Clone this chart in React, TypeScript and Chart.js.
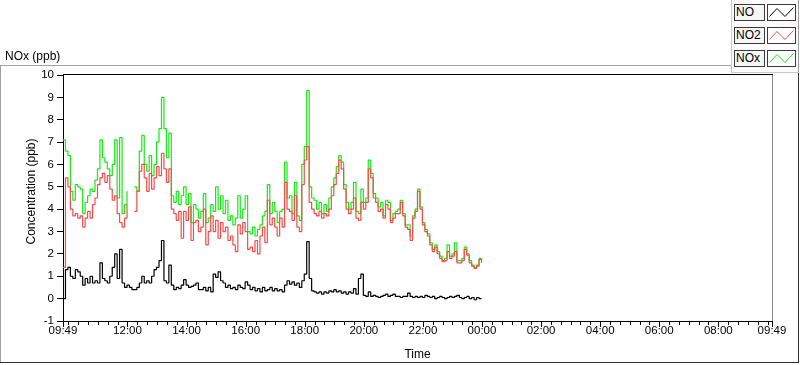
import React, { useEffect, useRef } from "react";
import { Chart, registerables } from "chart.js";

Chart.register(...registerables);

// ---- data (5-minute samples starting at 09:49) ----
const START_CLOCK_MIN = 9 * 60 + 49;
const SPAN_MIN = 1440;
const SAMPLE_STEP_MIN = 5;

const noValues: (number | null)[] = [
  0.0, 1.3, 1.4, 1.0, 0.9, 1.3, 1.2, 1.0, 0.6, 0.9, 0.7, 1.0, 0.7, 0.8, 0.7, 1.6, 0.9, 0.8, 0.7, 1.0,
  1.4, 2.0, 0.9, 2.2, 0.7, 0.5, 0.6, 0.5, 0.4, 0.4, 0.5, 0.7, 1.0, 0.7, 0.8, 0.7, 1.0, 1.3, 1.4, 1.7,
  2.6, 0.8, 0.7, 1.5,
  0.6, 0.4, 0.5, 0.45, 0.6, 0.85, 0.6, 0.5, 0.55, 0.6, 0.7, 0.4, 0.4, 0.5, 0.35, 0.5, 0.3, 1.1, 0.95, 1.2,
  0.8, 0.7, 0.5, 0.6, 0.45, 0.5, 0.4, 0.6, 0.5, 0.45, 0.75, 0.6, 0.4, 0.5, 0.35, 0.45, 0.3, 0.5, 0.35, 0.4,
  0.5, 0.35, 0.45,
  0.35, 0.4, 0.3, 0.6, 0.8, 0.65, 0.75, 0.6, 0.7, 0.5, 0.8, 1.1, 2.55, 0.9, 0.35, 0.3, 0.25, 0.3, 0.2, 0.3,
  0.25, 0.35, 0.3, 0.4, 0.3, 0.35, 0.25, 0.3, 0.2, 0.3, 0.25, 0.45, 0.2, 0.9, 1.1, 0.15, 0.1, 0.3, 0.1, 0.15,
  0.1, 0.05, 0.1,
  0.15, 0.2, 0.1, 0.15, 0.2, 0.1, 0.1, 0.05, 0.1, 0.1, 0.25, 0.1, 0.05, 0.1, 0.05, 0.1, 0.05, 0.15, 0.1, 0.05,
  0.1, 0.0, 0.05, 0.1, 0.05, 0.0, 0.05, 0.1, 0.05, 0.1, 0.15, 0.05, 0.0, 0.05, 0.1, 0.0, 0.05, -0.05, 0.05, 0.0,
  0.0,
];

const no2Values: (number | null)[] = [
  1.4, 5.4, 5.0, 4.0, 3.7, 3.8, 3.6, 3.7, 3.2, 3.6, 3.9, 3.6, 4.2, 4.5, 5.1, 5.4, 5.6, 5.2, 5.5, 4.9,
  4.4, 4.6, 3.8, 3.4, 3.2, 3.6, 4.2, null, null, 3.9, 4.8, 5.7, 6.0, 5.4, 4.8, 5.6, 4.9, 5.4, 5.9, 5.5,
  6.5, 5.8, 5.2, 5.8,
  4.0, 3.8, 3.5, 3.9, 2.7, 3.9, 3.5, 4.1, 2.6, 3.4, 3.5, 3.0, 3.2, 4.0, 2.4, 3.0, 3.7, 3.0, 3.5, 2.7,
  3.4, 3.0, 3.2, 2.6, 2.8, 2.4, 2.1, 3.3, 2.9, 3.4, 3.0, 2.2, 2.3, 2.1, 2.6, 2.0, 2.8, 3.2, 2.5, 4.4,
  3.3, 3.6, 3.2,
  2.8, 3.6, 3.2, 5.2, 4.0, 3.9, 3.5, 4.6, 3.2, 3.0, 5.1, 6.2, 6.8, 4.3, 4.0, 3.8, 3.7, 3.9, 3.6, 3.8,
  3.7, 4.0, 4.6, 5.1, 5.6, 6.2, 5.8, 4.9, 4.0, 3.8, 4.0, 4.5, 3.6, 3.5, 4.3, 4.0, 4.3, 5.8, 5.4, 4.5,
  4.3, 3.9, 4.0,
  3.6, 4.2, 4.0, 3.4, 3.6, 3.8, 3.8, 4.3, 3.7, 3.2, 3.1, 2.6, 3.6, 3.9, 4.8, 4.0, 3.3, 3.0, 2.8, 2.4,
  2.1, 2.3, 2.0, 1.8, 1.65, 1.7, 2.1, 1.8, 1.9, 2.1, 1.6, 1.6, 1.7, 2.2, 1.95, 1.6, 1.45, 1.35, 1.45, 1.75,
  1.6,
];

const noxValues: (number | null)[] = [
  7.1, 6.6, 6.4, 4.8, 4.4, 5.1, 5.0, 4.9, 3.8, 4.3, 4.6, 4.9, 4.8, 5.3, 5.8, 7.1, 6.3, 6.1, 5.8, 5.5,
  6.0, 7.1, 4.5, 7.2, 3.8, 4.2, 4.8, null, null, 5.0, 4.8, 6.6, 7.3, 6.0, 5.7, 6.4, 5.5, 6.0, 7.0, 7.6,
  9.0, 7.6, 6.3, 7.4,
  4.6, 4.3, 4.8, 4.2, 4.6, 5.0, 4.2, 4.7, 3.4, 4.2, 4.0, 3.6, 3.9, 4.7, 3.4, 3.6, 4.2, 3.9, 5.0, 4.0,
  4.6, 3.8, 4.4, 3.5, 3.7, 3.3, 3.6, 4.6, 3.6, 4.0, 4.6, 3.0, 2.9, 3.2, 2.8, 3.1, 3.3, 3.7, 3.9, 5.1,
  3.8, 4.3, 3.9,
  3.4, 3.9, 4.0, 6.1, 4.5, 4.6, 3.8, 5.2, 3.7, 3.5, 6.0, 6.8, 9.3, 5.0, 4.5, 4.4, 4.0, 4.3, 3.8, 4.2,
  3.9, 4.5, 5.0, 5.4, 5.9, 6.4, 6.1, 5.1, 4.3, 4.0, 4.3, 5.2, 3.9, 3.8, 4.9, 4.3, 4.5, 6.2, 5.6, 4.7,
  4.5, 4.1, 4.3,
  3.7, 4.4, 4.3, 3.5, 3.8, 3.9, 4.0, 4.4, 3.8, 3.3, 3.3, 2.8, 3.7, 4.0, 4.9, 4.1, 3.4, 3.1, 2.9, 2.5,
  2.2, 2.4, 2.1, 1.9, 1.7, 1.8, 2.4, 1.9, 2.0, 2.5, 1.7, 1.7, 1.8, 2.3, 2.0, 1.7, 1.5, 1.4, 1.5, 1.8,
  1.7,
];

const seriesNames = ["NO", "NO2", "NOx"];
const seriesColors = ["#000000", "#ff4848", "#14ec14"];
const yMin = -1;
const yMax = 10;
const graphTitle = "NOx (ppb)";
const yTitle = "Concentration (ppb)";
const xTitle = "Time";

const FONT = "'Segoe UI', 'Liberation Sans', Arial, sans-serif";

// tick positions: start, every 20 clock-minutes, end
function buildXTicks(): number[] {
  const t: number[] = [0];
  let m = Math.ceil((START_CLOCK_MIN + 1) / 20) * 20;
  while (m < START_CLOCK_MIN + SPAN_MIN) {
    t.push(m - START_CLOCK_MIN);
    m += 20;
  }
  t.push(SPAN_MIN);
  return t;
}
const xTickValues = buildXTicks();

function xLabel(v: number): string {
  if (v === 0 || v === SPAN_MIN) return "09:49";
  if (v < 60 || v > SPAN_MIN - 60) return "";
  const clock = (START_CLOCK_MIN + v) % 1440;
  if (clock % 120 === 0) {
    const h = Math.floor(clock / 60);
    return (h < 10 ? "0" : "") + h + ":00";
  }
  return "";
}

const toPoints = (vals: (number | null)[]) =>
  vals.map((v, i) => ({ x: i * SAMPLE_STEP_MIN, y: v }));

const decorPlugin = {
  id: "decor",
  afterDraw(chart: any) {
    const { ctx, chartArea: a, scales } = chart;
    const xs = scales.x;
    ctx.save();
    ctx.lineWidth = 1;
    ctx.strokeStyle = "#000";
    xs.ticks.forEach((t: any) => {
      const px = Math.round(xs.getPixelForValue(t.value)) + 0.5;
      const len = t.label ? 5 : 3;
      ctx.beginPath();
      ctx.moveTo(px, a.bottom + 1);
      ctx.lineTo(px, a.bottom + 1 + len);
      ctx.stroke();
    });
    // top border of plot
    ctx.beginPath();
    ctx.moveTo(a.left, Math.round(a.top) - 0.5);
    ctx.lineTo(a.right + 1, Math.round(a.top) - 0.5);
    ctx.stroke();
    // right border of plot
    ctx.strokeStyle = "#8a8a8a";
    ctx.beginPath();
    ctx.moveTo(Math.round(a.right) + 0.5, a.top);
    ctx.lineTo(Math.round(a.right) + 0.5, a.bottom);
    ctx.stroke();
    // y title
    ctx.fillStyle = "#000";
    ctx.font = "12px " + FONT;
    ctx.textAlign = "center";
    ctx.textBaseline = "middle";
    ctx.translate(32, 191.5);
    ctx.rotate(-Math.PI / 2);
    ctx.fillText(yTitle, 0, 0);
    ctx.restore();
  },
};

export default function App() {
  const ref = useRef<HTMLCanvasElement>(null);

  useEffect(() => {
    const valueSets = [noValues, no2Values, noxValues];
    const chart = new Chart(ref.current as HTMLCanvasElement, {
      type: "line",
      data: {
        datasets: seriesNames.map((name, k) => ({
          label: name,
          data: toPoints(valueSets[k]) as any,
          borderColor: seriesColors[k],
          backgroundColor: seriesColors[k],
          borderWidth: 1.2,
          pointRadius: 0,
          stepped: true,
          spanGaps: false,
          borderJoinStyle: "bevel" as const,
          fill: false,
        })),
      },
      options: {
        animation: false,
        responsive: false,
        maintainAspectRatio: false,
        layout: { padding: { left: 0, top: 75, right: 28, bottom: 0 } },
        plugins: { legend: { display: false }, tooltip: { enabled: false } },
        scales: {
          x: {
            type: "linear",
            min: 0,
            max: SPAN_MIN,
            afterBuildTicks: (s: any) => {
              s.ticks = xTickValues.map((v) => ({ value: v }));
            },
            afterFit: (s: any) => {
              s.height = 44;
            },
            ticks: {
              autoSkip: false,
              maxRotation: 0,
              minRotation: 0,
              padding: 3,
              color: "#000",
              font: { family: FONT, size: 11.5 },
              callback: (v: any) => xLabel(Number(v)),
            },
            grid: { display: true, drawOnChartArea: false, drawTicks: false },
            border: { display: true, color: "#000", width: 1 },
            title: {
              display: true,
              text: xTitle,
              color: "#000",
              font: { family: FONT, size: 12 },
              padding: { top: 0, bottom: 3 },
            },
          },
          y: {
            type: "linear",
            min: yMin,
            max: yMax,
            afterFit: (s: any) => {
              s.width = 63;
            },
            ticks: {
              stepSize: 1,
              padding: 3,
              color: "#000",
              font: { family: FONT, size: 11.5 },
            },
            grid: {
              display: true,
              drawOnChartArea: false,
              drawTicks: true,
              tickLength: 6,
              tickColor: "#000",
            },
            border: { display: true, color: "#000", width: 1 },
          },
        },
      },
      plugins: [decorPlugin],
    });
    return () => chart.destroy();
  }, []);

  const line = (l: number, t: number, w: number, h: number, c: string) => (
    <div style={{ position: "absolute", left: l, top: t, width: w, height: h, background: c }} />
  );

  return (
    <div
      style={{
        position: "absolute",
        left: 0,
        top: 0,
        width: 800,
        height: 365,
        background: "#ffffff",
        fontFamily: FONT,
        overflow: "hidden",
      }}
    >
      <canvas
        ref={ref}
        width={800}
        height={365}
        style={{ position: "absolute", left: 0, top: 0, width: 800, height: 365 }}
      />
      <div
        style={{
          position: "absolute",
          left: 5,
          top: 49,
          fontSize: 12,
          lineHeight: "14px",
          color: "#000",
          whiteSpace: "nowrap",
        }}
      >
        {graphTitle}
      </div>
      {/* outer frame */}
      {line(0, 65, 731, 1, "#a0a0a0")}
      {line(0, 65, 1, 298, "#a0a0a0")}
      {line(0, 362, 799, 1, "#303030")}
      {line(798, 72, 1, 291, "#303030")}
      {/* legend panel */}
      <div
        style={{
          position: "absolute",
          left: 731,
          top: 0,
          width: 66,
          height: 72,
          background: "#fbfbfb",
          borderLeft: "1px solid #c8c8c8",
          borderBottom: "1px solid #c8c8c8",
          borderRight: "1px solid #a0a0a0",
        }}
      />
      {seriesNames.map((name, k) => {
        const top = 4 + k * 23;
        return (
          <React.Fragment key={name}>
            <div
              style={{
                position: "absolute",
                left: 734,
                top,
                width: 28,
                height: 15,
                border: "1px solid #3a3a3a",
                background: "#f6f6f6",
                fontSize: 12,
                lineHeight: "15px",
                paddingLeft: 1,
                boxSizing: "content-box",
                color: "#000",
                whiteSpace: "nowrap",
                overflow: "hidden",
              }}
            >
              {name}
            </div>
            <div
              style={{
                position: "absolute",
                left: 767,
                top,
                width: 27,
                height: 15,
                border: "1px solid #3a3a3a",
                background: "#ffffff",
              }}
            >
              <svg width={27} height={15} style={{ display: "block" }}>
                <polyline
                  points="1.5,11.5 9,3.5 17,11.5 25.5,2.5"
                  fill="none"
                  stroke={seriesColors[k]}
                  strokeWidth={1}
                />
              </svg>
            </div>
          </React.Fragment>
        );
      })}
    </div>
  );
}
